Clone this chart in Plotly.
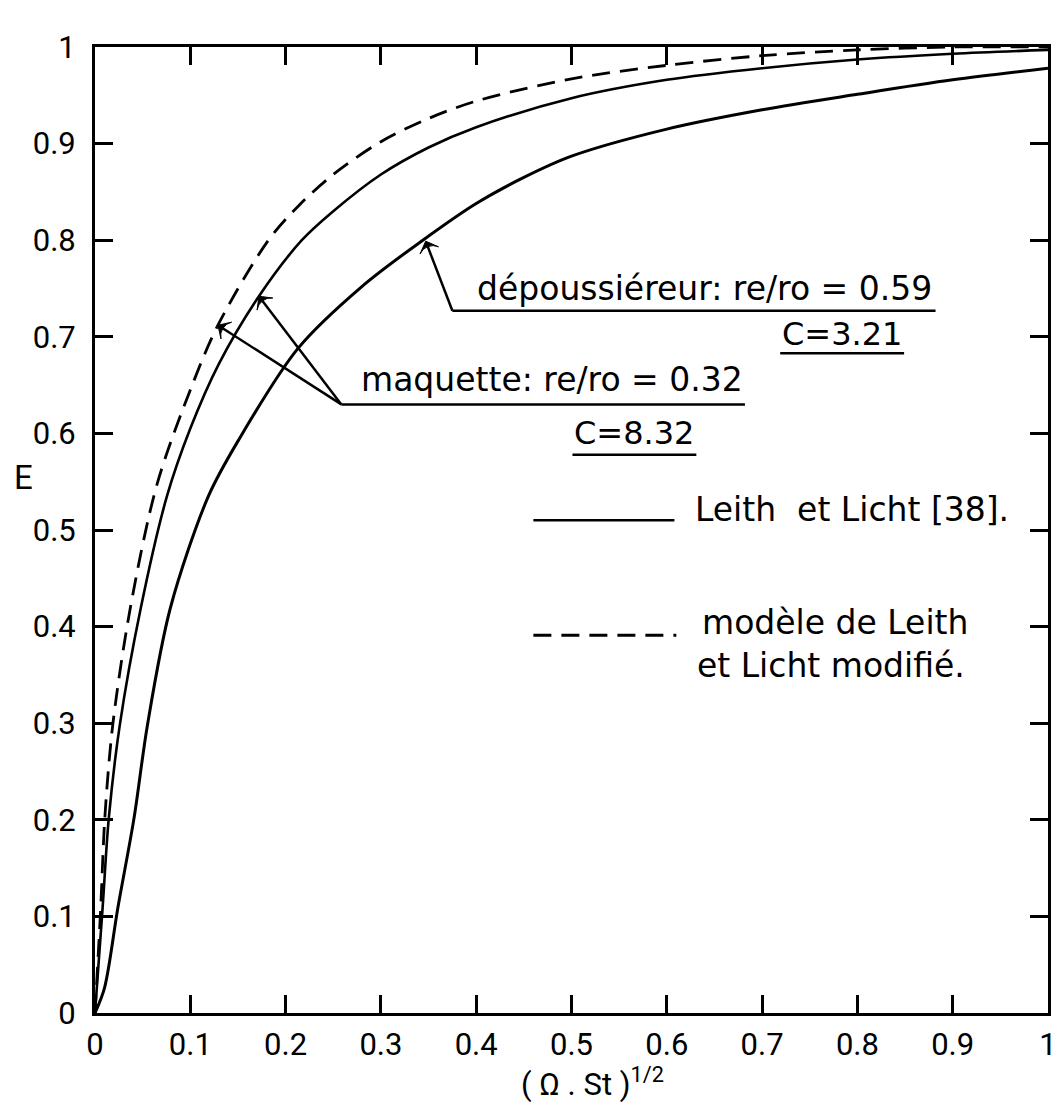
import plotly.graph_objects as go

# --- data ---
x_dep = [0, 0.010, 0.024, 0.041, 0.055, 0.079, 0.119, 0.150, 0.213, 0.280, 0.344, 0.40, 0.45, 0.50, 0.60, 0.70, 0.80, 0.90, 1.00]
E_dep = [0, 0.026, 0.109, 0.202, 0.298, 0.419, 0.535, 0.592, 0.688, 0.752, 0.800, 0.838, 0.865, 0.887, 0.915, 0.935, 0.951, 0.966, 0.978]

x_maq = [0, 0.008, 0.0145, 0.026, 0.048, 0.0755, 0.10, 0.13, 0.172, 0.217, 0.25, 0.30, 0.35, 0.40, 0.50, 0.60, 0.70, 0.80, 0.90, 1.00]
E_maq = [0, 0.109, 0.202, 0.298, 0.419, 0.535, 0.605, 0.672, 0.742, 0.800, 0.830, 0.868, 0.896, 0.917, 0.947, 0.966, 0.978, 0.987, 0.993, 0.997]

x_mod = [0, 0.006, 0.0103, 0.0186, 0.037, 0.065, 0.10, 0.129, 0.182, 0.215, 0.25, 0.30, 0.35, 0.40, 0.50, 0.60, 0.70, 0.80, 0.90, 1.00]
E_mod = [0, 0.109, 0.202, 0.298, 0.419, 0.547, 0.645, 0.712, 0.800, 0.837, 0.868, 0.902, 0.926, 0.944, 0.967, 0.981, 0.991, 0.997, 1.000, 1.000]

tick_vals = [0, 0.1, 0.2, 0.3, 0.4, 0.5, 0.6, 0.7, 0.8, 0.9, 1]
tick_text = ["0", "0.1", "0.2", "0.3", "0.4", "0.5", "0.6", "0.7", "0.8", "0.9", "1"]

# arrows: (tail x, tail y, tip x, tip y) in data units
arrow_dep = [0.375, 0.727, 0.347, 0.799]
arrow_maq_mod = [0.2585, 0.630, 0.129, 0.712]
arrow_maq_ll = [0.2585, 0.630, 0.172, 0.742]

TICK_FONT = "Roboto, Liberation Sans, DejaVu Sans"
TXT_FONT = "DejaVu Sans"

fig = go.Figure()
fig.add_trace(go.Scatter(x=x_dep, y=E_dep, mode="lines",
                         line=dict(color="black", width=3, shape="spline", smoothing=0.9),
                         showlegend=False))
fig.add_trace(go.Scatter(x=x_maq, y=E_maq, mode="lines",
                         line=dict(color="black", width=2.6, shape="spline", smoothing=0.9),
                         showlegend=False))
fig.add_trace(go.Scatter(x=x_mod, y=E_mod, mode="lines",
                         line=dict(color="black", width=2.8, dash="18px,10px", shape="spline", smoothing=0.9),
                         showlegend=False))

for a in (arrow_dep, arrow_maq_mod, arrow_maq_ll):
    fig.add_trace(go.Scatter(x=[a[0], a[2]], y=[a[1], a[3]], mode="lines+markers",
                             line=dict(color="black", width=2.5),
                             marker=dict(symbol="arrow-wide", size=[0, 14], angleref="previous", color="black",
                                         opacity=1, line=dict(width=1, color="black")),
                             showlegend=False, hoverinfo="skip"))

axis_common = dict(range=[0, 1], tickvals=tick_vals, ticktext=tick_text,
                   ticks="inside", ticklen=18, tickwidth=2.5, tickcolor="black",
                   showline=True, linewidth=3, linecolor="black", mirror="ticks",
                   showgrid=False, zeroline=False, ticklabeloverflow="allow",
                   tickfont=dict(family=TICK_FONT, size=31, color="black"))
fig.update_xaxes(**axis_common, ticklabelstandoff=2)
fig.update_yaxes(**axis_common, ticklabelstandoff=10)

annos = []

def txt(x, y, s, size=33, xanchor="center"):
    annos.append(dict(x=x, y=y, xref="x", yref="y", text=s, showarrow=False, xanchor=xanchor, yanchor="middle",
                      font=dict(family=TXT_FONT, size=size, color="black")))

txt(0.640, 0.750, "dépoussiéreur: re/ro = 0.59")
txt(0.784, 0.703, "C=3.21", size=32)
txt(0.480, 0.656, "maquette: re/ro = 0.32")
txt(0.566, 0.600, "C=8.32", size=32)
txt(0.628, 0.521, "Leith  et Licht [38].", xanchor="left")
txt(0.635, 0.404, "modèle de Leith", xanchor="left")
txt(0.630, 0.360, "et Licht modifié.", xanchor="left")

# axis titles
annos.append(dict(x=-0.075, y=0.554, xref="paper", yref="y", text="E", showarrow=False,
                  xanchor="center", yanchor="middle",
                  font=dict(family=TICK_FONT, size=33, color="black")))
annos.append(dict(x=0.522, y=-0.072, xref="paper", yref="paper", text="( Ω . St )<sup>1/2</sup>", showarrow=False,
                  xanchor="center", yanchor="middle", font=dict(family=TICK_FONT, size=31, color="black")))

shapes = []
def hline(x0, x1, y, dash="solid", width=2.5):
    shapes.append(dict(type="line", xref="x", yref="y", x0=x0, x1=x1, y0=y, y1=y,
                       line=dict(color="black", width=width, dash=dash)))

hline(0.375, 0.882, 0.727)
hline(0.719, 0.849, 0.683)
hline(0.2585, 0.682, 0.630)
hline(0.501, 0.631, 0.578)
hline(0.460, 0.608, 0.510)
hline(0.460, 0.610, 0.391, dash="18px,10px", width=3)

fig.update_layout(width=1059, height=1105, autosize=False,
                  margin=dict(l=87, r=10, t=39, b=100),
                  plot_bgcolor="white", paper_bgcolor="white",
                  annotations=annos, shapes=shapes, showlegend=False)

fig.write_html("out.html")
